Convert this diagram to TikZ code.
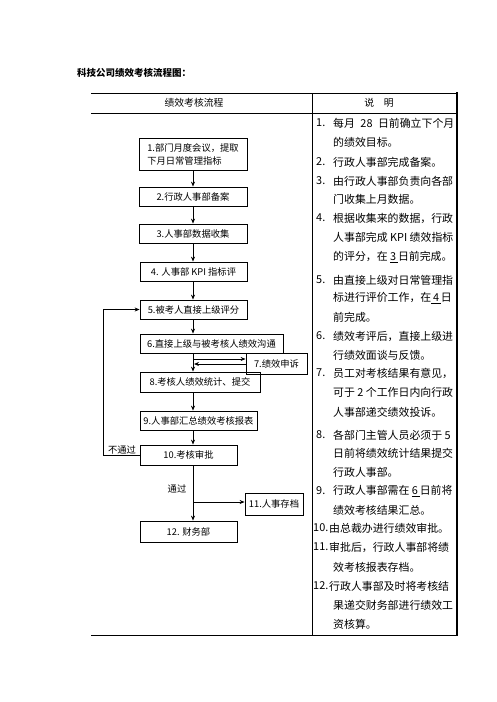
\documentclass[tikz,border=0pt]{standalone}
\usepackage{fontspec}
\setmainfont{Noto Sans CJK SC}
\usetikzlibrary{arrows.meta}
\begin{document}
\begin{tikzpicture}[x=1pt,y=-1pt,
 box/.style={draw,line width=0.8pt,inner sep=0pt,font=\fontsize{9.3}{13}\selectfont,align=center},
 arr/.style={line width=0.8pt,-{Stealth[length=5pt,width=4pt]}},
 rule/.style={line width=0.8pt},
 desc/.style={anchor=west,inner sep=0pt,font=\fontsize{10.9}{13}\selectfont},
 lbl/.style={inner sep=0pt,font=\fontsize{9.3}{12}\selectfont}]
\useasboundingbox[fill=white] (0,0) rectangle (496,702);
% title
\node[anchor=west,inner sep=0pt,font=\fontsize{9.5}{12}\selectfont\bfseries] (title) at (77,73) {科技公司绩效考核流程图：};
% table
\draw[rule] (91,93) -- (457,93);
\draw[rule] (91,113) -- (457,113);
\draw[rule] (91,635) -- (457,635);
\draw[rule] (312,93) -- (312,635);
\draw[line width=1.5pt] (457,92.3) -- (457,635.7);
\node[lbl,font=\fontsize{9.8}{12}\selectfont] (h1) at (194,103) {绩效考核流程};
\node[lbl,font=\fontsize{9.8}{12}\selectfont] (h2) at (379,103) {说\quad 明};
% boxes
\node[box,align=left,minimum width=108pt,minimum height=32pt] (b1) at (193,154) {1.部门月度会议，提取\\下月日常管理指标};
\node[box,minimum width=108pt,minimum height=19pt] (b2) at (193,196.5) {2.行政人事部备案};
\node[box,minimum width=108pt,minimum height=19pt] (b3) at (193,233.5) {3.人事部数据收集};
\node[box,minimum width=107pt,minimum height=19pt] (b4) at (193.5,271.5) {4. 人事部 KPI 指标评};
\node[box,minimum width=107pt,minimum height=19pt] (b5) at (193.5,309.5) {5.被考人直接上级评分};
\node[box,minimum width=143pt,minimum height=19pt] (b6) at (211.5,343.5) {6.直接上级与被考核人绩效沟通};
\node[box,minimum width=61pt,minimum height=21pt] (b7) at (276.5,363.5) {7.绩效申诉};
\node[box,minimum width=120pt,minimum height=20pt] (b8) at (200,382) {8.考核人绩效统计、提交};
\node[box,minimum width=117pt,minimum height=19pt] (b9) at (198.5,420.5) {9.人事部汇总绩效考核报表};
\node[box,minimum width=97pt,minimum height=20pt] (b10) at (188.5,455) {10.考核审批};
\node[box,minimum width=58pt,minimum height=22pt] (b11) at (274,504) {11.人事存档};
\node[box,minimum width=97pt,minimum height=21pt] (b12) at (188.5,531.5) {12. 财务部};
% connectors
\coordinate (sp) at (193,0);
\draw[arr] (b1.south -| sp) -- (b2.north -| sp);
\draw[arr] (b2.south -| sp) -- (b3.north -| sp);
\draw[arr] (b3.south -| sp) -- (b4.north -| sp);
\draw[arr] (b4.south -| sp) -- (b5.north -| sp);
\draw[arr] (b5.south -| sp) -- (b6.north -| sp);
\draw[arr] (b6.south -| sp) -- (b8.north -| sp);
\draw[arr] (b8.south -| sp) -- (b9.north -| sp);
\draw[arr] (b9.south -| sp) -- (b10.north -| sp);
\draw[arr] (b10.south -| sp) -- (b12.north -| sp);
\coordinate (j1) at (193,359);
\coordinate (j2) at (194,364);
\draw[arr] (j1) -- (j1 -| b7.west);
\draw[arr] (j2 -| b7.west) -- (j2);
\coordinate (j3) at (193,502);
\draw[arr] (j3) -- (j3 -| b11.west);
\coordinate (fb) at (103,0);
\draw[arr] (b10.west) -- (b10.west -| fb) -- (b5.west -| fb) -- (b5.west);
\node[lbl] (nopass) at (122,450) {不通过};
\node[lbl] (pass) at (177,489) {通过};
% description column
\node[desc] (n1) at (316,123) {1.};
\node[desc] (d1a) at (333,123) {每月\enspace 28\enspace 日前确立下个月};
\node[desc] (d1b) at (333,142) {的绩效目标。};
\node[desc] (n2) at (316,162) {2.};
\node[desc] (d2a) at (333,162) {行政人事部完成备案。};
\node[desc] (n3) at (316,181) {3.};
\node[desc] (d3a) at (333,181) {由行政人事部负责向各部};
\node[desc] (d3b) at (333,199) {门收集上月数据。};
\node[desc] (n4) at (316,218) {4.};
\node[desc] (d4a) at (333,218) {根据收集来的数据，行政};
\node[desc] (d4b) at (333,237) {人事部完成 KPI 绩效指标};
\node[desc] (d4c) at (333,257) {的评分，在 \underline{3\,}日前完成。};
\node[desc] (n5) at (316,280) {5.};
\node[desc] (d5a) at (333,280) {由直接上级对日常管理指};
\node[desc] (d5b) at (333,298) {标进行评价工作，在\underline{\,4\,}日};
\node[desc] (d5c) at (333,317) {前完成。};
\node[desc] (n6) at (316,336) {6.};
\node[desc] (d6a) at (333,336) {绩效考评后，直接上级进};
\node[desc] (d6b) at (333,355) {行绩效面谈与反馈。};
\node[desc] (n7) at (316,373) {7.};
\node[desc] (d7a) at (333,373) {员工对考核结果有意见，};
\node[desc] (d7b) at (333,392) {可于 2 个工作日内向行政};
\node[desc] (d7c) at (333,412) {人事部递交绩效投诉。};
\node[desc] (n8) at (316,435) {8.};
\node[desc] (d8a) at (333,435) {各部门主管人员必须于 5};
\node[desc] (d8b) at (333,453) {日前将绩效统计结果提交};
\node[desc] (d8c) at (333,472) {行政人事部。};
\node[desc] (n9) at (316,491) {9.};
\node[desc] (d9a) at (333,491) {行政人事部需在 \underline{6\,}日前将};
\node[desc] (d9b) at (333,510) {绩效考核结果汇总。};
\node[desc] (n10) at (313,528) {10.};
\node[desc] (d10a) at (329,528) {由总裁办进行绩效审批。};
\node[desc] (n11) at (313,547) {11.};
\node[desc] (d11a) at (329,547) {审批后，行政人事部将绩};
\node[desc] (d11b) at (333,567) {效考核报表存档。};
\node[desc] (n12) at (313,586) {12.};
\node[desc] (d12a) at (329,586) {行政人事部及时将考核结};
\node[desc] (d12b) at (333,605) {果递交财务部进行绩效工};
\node[desc] (d12c) at (333,624) {资核算。};
\end{tikzpicture}
\end{document}
